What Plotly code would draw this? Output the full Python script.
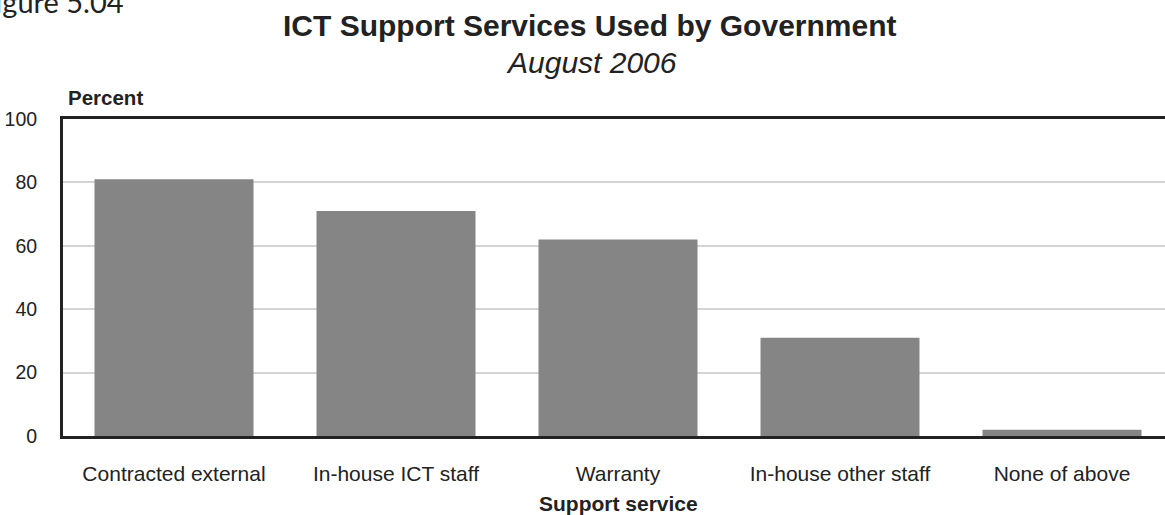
import plotly.graph_objects as go

# Support services used by government agencies (percent), August 2006
categories = ["Contracted external", "In-house ICT staff", "Warranty",
              "In-house other staff", "None of above"]
percent = [81, 71, 62, 31, 2]
y_ticks = [0, 20, 40, 60, 80, 100]

W, H = 1165, 515
L, R, T, B = 63, 0, 119, 79
plot_h = H - T - B
plot_w = W - L - R
cat_px = 222  # horizontal pixels per category slot


def px_to_paper_x(px):
    return (px - L) / plot_w


def px_to_paper_y(py):
    return 1 + (T - py) / plot_h


fig = go.Figure(
    go.Bar(
        x=list(range(len(categories))),
        y=percent,
        marker=dict(color="#858585", line=dict(width=0)),
        hoverinfo="x+y",
    )
)

text_col = "#222222"
font_main = "Liberation Sans, Arial, sans-serif"

fig.update_layout(
    width=W,
    height=H,
    margin=dict(l=L, r=R, t=T, b=B, pad=0),
    paper_bgcolor="white",
    plot_bgcolor="white",
    bargap=1 - 159 / cat_px,
    showlegend=False,
    font=dict(family=font_main, color=text_col, size=20),
    xaxis=dict(
        range=[-0.5, -0.5 + plot_w / cat_px],
        tickmode="array",
        tickvals=list(range(len(categories))),
        ticktext=categories,
        showgrid=False,
        zeroline=False,
        showline=True,
        mirror=True,
        linecolor="#222222",
        linewidth=3,
        ticks="",
        ticklabelstandoff=17,
        tickfont=dict(size=21, color=text_col),
        fixedrange=True,
    ),
    yaxis=dict(
        range=[0, 100],
        tickmode="array",
        tickvals=y_ticks,
        showgrid=True,
        gridcolor="#d4d4d4",
        gridwidth=1.5,
        zeroline=False,
        showline=True,
        linecolor="#222222",
        linewidth=3,
        ticks="",
        ticklabelstandoff=19,
        tickfont=dict(size=19.5, color=text_col),
        fixedrange=True,
    ),
)

annotations = [
    dict(text="<b>ICT Support Services Used by Government</b>",
         x=px_to_paper_x(590), y=px_to_paper_y(25),
         font=dict(size=30, color=text_col, family=font_main)),
    dict(text="<i>August 2006</i>",
         x=px_to_paper_x(591), y=px_to_paper_y(62),
         font=dict(size=30, color=text_col, family=font_main)),
    dict(text="<b>Percent</b>",
         x=px_to_paper_x(66), y=px_to_paper_y(98), xanchor="left",
         font=dict(size=20.5, color=text_col, family=font_main)),
    dict(text="<b>Support service</b>",
         x=px_to_paper_x(618), y=px_to_paper_y(503),
         font=dict(size=21, color=text_col, family=font_main)),
    dict(text="Figure 5.04",
         x=px_to_paper_x(126), y=px_to_paper_y(1), xanchor="right",
         font=dict(size=29, color=text_col, family="Lato, Carlito, sans-serif")),
]
for a in annotations:
    a.setdefault("xanchor", "center")
    a.setdefault("yanchor", "middle")
    a.update(xref="paper", yref="paper", showarrow=False)
fig.update_layout(annotations=annotations)

fig.write_html("out.html", config={"displayModeBar": False})
